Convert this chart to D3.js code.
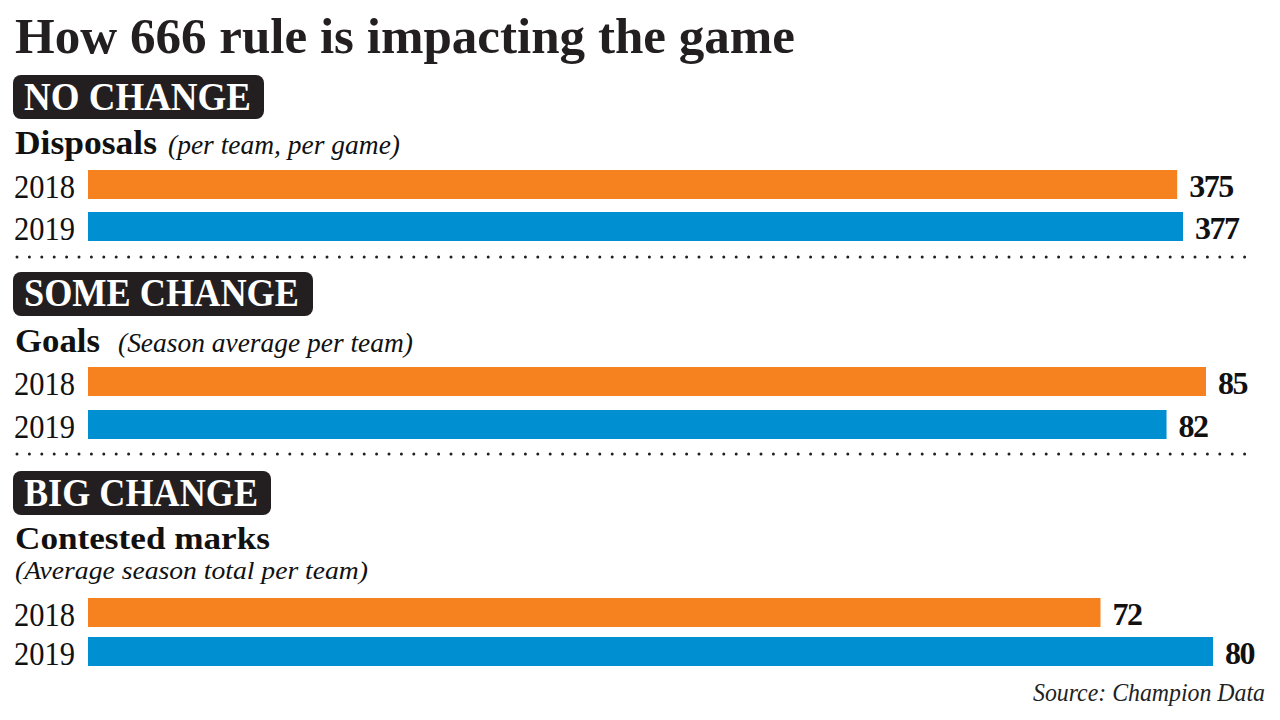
<!DOCTYPE html>
<html><head><meta charset="utf-8">
<script src="https://cdn.jsdelivr.net/npm/d3@7"></script>
<style>html,body{margin:0;padding:0;background:#fff;}svg{display:block;}</style>
</head><body>
<svg id="c" width="1280" height="720"></svg>
<script>
// ---- data ----
const title = "How 666 rule is impacting the game";
const badges = ["NO CHANGE", "SOME CHANGE", "BIG CHANGE"];
const metrics = ["Disposals", "Goals", "Contested marks"];
const metricNotes = ["(per team, per game)", "(Season average per team)", "(Average season total per team)"];
const years = ["2018", "2019"];
const values2018 = [375, 85, 72];
const values2019 = [377, 82, 80];
const source = "Source: Champion Data";

// ---- layout (not data) ----
const colors = {"2018": "#F5821F", "2019": "#0090D1"};
const barLeft = 88;
const panelLayout = [
  {badgeY: 75, badgeW: 251, badgeH: 44, badgeBase: 110, badgeTextW: 227,
   headBase: 154, headW: 142, headSize: 33, noteX: 168, noteBase: 154, noteW: 232, noteSize: 27,
   barY: [170, 212], rangeEnd: 1183, dotY: 257},
  {badgeY: 272, badgeW: 300, badgeH: 44, badgeBase: 306, badgeTextW: 275,
   headBase: 352, headW: 85, headSize: 33, noteX: 118, noteBase: 352, noteW: 295, noteSize: 27,
   barY: [367, 410], rangeEnd: 1206, dotY: 454},
  {badgeY: 471, badgeW: 258, badgeH: 44, badgeBase: 506, badgeTextW: 234,
   headBase: 549, headW: 255, headSize: 31, noteX: 15, noteBase: 579, noteW: 353, noteSize: 25,
   barY: [598, 637], rangeEnd: 1213, dotY: null}
];
const barH = 29;
const serif = "'Liberation Serif','DejaVu Serif',serif";

const svg = d3.select("#c");

function fit(sel, w) {
  sel.attr("textLength", w).attr("lengthAdjust", "spacingAndGlyphs");
  return sel;
}

// title
fit(svg.append("text").attr("x", 15).attr("y", 53)
  .attr("font-family", serif).attr("font-weight", "bold").attr("font-size", 50)
  .attr("fill", "#231F20").text(title), 780);

metrics.forEach((m, i) => {
  const L = panelLayout[i];
  const g = svg.append("g");
  // badge
  g.append("rect").attr("x", 13).attr("y", L.badgeY).attr("width", L.badgeW).attr("height", L.badgeH)
    .attr("rx", 8).attr("ry", 8).attr("fill", "#231F20");
  fit(g.append("text").attr("x", 24).attr("y", L.badgeBase)
    .attr("font-family", serif).attr("font-weight", "bold").attr("font-size", 40)
    .attr("fill", "#fff").text(badges[i]), L.badgeTextW);
  // header
  fit(g.append("text").attr("x", 15).attr("y", L.headBase)
    .attr("font-family", serif).attr("font-weight", "bold").attr("font-size", L.headSize)
    .attr("fill", "#111").text(m), L.headW);
  fit(g.append("text").attr("x", L.noteX).attr("y", L.noteBase)
    .attr("font-family", serif).attr("font-style", "italic").attr("font-size", L.noteSize)
    .attr("fill", "#111").text(metricNotes[i]), L.noteW);

  const vals = [values2018[i], values2019[i]];
  const x = d3.scaleLinear().domain([0, d3.max(vals)]).range([barLeft, L.rangeEnd]);
  const rows = years.map((y, k) => ({year: y, value: vals[k], y0: L.barY[k]}));

  g.selectAll("rect.bar").data(rows).join("rect").attr("class", "bar")
    .attr("x", x(0)).attr("y", d => d.y0)
    .attr("width", d => x(d.value) - x(0)).attr("height", barH)
    .attr("fill", d => colors[d.year]);

  g.selectAll("text.yr").data(rows).join("text").attr("class", "yr")
    .attr("x", 14).attr("y", d => d.y0 + barH - 1)
    .attr("font-family", serif).attr("font-size", 34).attr("fill", "#111")
    .attr("textLength", 61).attr("lengthAdjust", "spacingAndGlyphs")
    .text(d => d.year);

  g.selectAll("text.val").data(rows).join("text").attr("class", "val")
    .attr("x", d => x(d.value) + 12).attr("y", d => d.y0 + barH - 2)
    .attr("font-family", serif).attr("font-weight", "bold").attr("font-size", 32)
    .attr("fill", "#111").attr("letter-spacing", -1.5)
    .text(d => d.value);

  if (L.dotY !== null) {
    g.append("line").attr("x1", 17).attr("x2", 1256).attr("y1", L.dotY).attr("y2", L.dotY)
      .attr("stroke", "#231F20").attr("stroke-width", 3).attr("stroke-linecap", "round")
      .attr("stroke-dasharray", "0 12.4");
  }
});

fit(svg.append("text").attr("x", 1033).attr("y", 701)
  .attr("font-family", serif).attr("font-style", "italic").attr("font-size", 25)
  .attr("fill", "#222").text(source), 232);
</script>
</body></html>
